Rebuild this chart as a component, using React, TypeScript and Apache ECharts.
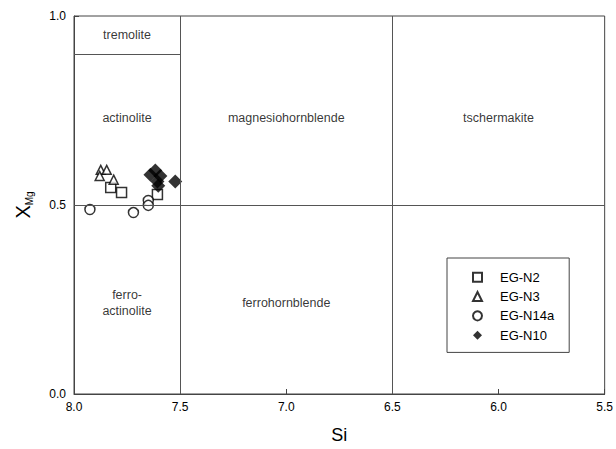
import React, { useEffect, useRef } from "react";
import * as echarts from "echarts";

const seriesNames = ["EG-N2", "EG-N3", "EG-N14a", "EG-N10"];
const egN2: [number, number][] = [[7.827, 0.546], [7.776, 0.533], [7.607, 0.528]];
const egN3: [number, number][] = [[7.874, 0.593], [7.846, 0.593], [7.879, 0.577], [7.813, 0.567]];
const egN14a: [number, number][] = [[7.925, 0.488], [7.72, 0.48], [7.65, 0.512], [7.65, 0.499]];
const egN10: [number, number][] = [[7.64, 0.58], [7.617, 0.591], [7.593, 0.577], [7.607, 0.562], [7.603, 0.551], [7.523, 0.562]];

const zoneNames = ["tremolite", "actinolite", "magnesiohornblende", "tschermakite", "ferro-\nactinolite", "ferrohornblende"];
const zoneSi = [7.75, 7.75, 7.0, 6.0, 7.75, 7.0];
const zoneXMg = [0.95, 0.73, 0.73, 0.73, 0.24, 0.24];

const siBoundaries = [7.5, 6.5];
const xmgBoundary = 0.5;
const tremoliteLimit = 0.9;

const FONT = "Liberation Sans, Arial, sans-serif";

export default function App() {
  const ref = useRef<HTMLDivElement>(null);
  useEffect(() => {
    if (!ref.current) return;
    const chart = echarts.init(ref.current, undefined, { renderer: "svg" });
    const hollow = { color: "#fff", borderColor: "#000", borderWidth: 1.5 };
    chart.setOption({
      animation: false,
      backgroundColor: "#fff",
      textStyle: { fontFamily: FONT },
      grid: { left: 74, right: 8, top: 16, bottom: 52, show: true, borderColor: "#444", borderWidth: 1 },
      legend: {
        data: seriesNames,
        orient: "vertical",
        left: 447,
        top: 258,
        padding: [12, 15, 10, 25],
        itemWidth: 9,
        itemHeight: 9,
        itemGap: 4.8,
        borderColor: "#444",
        borderWidth: 1,
        backgroundColor: "#fff",
        textStyle: { fontFamily: FONT, fontSize: 13, color: "#000", padding: [0, 0, 0, 13], lineHeight: 14.5 },
      },
      xAxis: {
        type: "value",
        inverse: true,
        min: 5.5,
        max: 8.0,
        interval: 0.5,
        name: "Si",
        nameLocation: "middle",
        nameGap: 32,
        nameTextStyle: { fontSize: 18, color: "#000", fontFamily: FONT },
        axisLine: { lineStyle: { color: "#444" } },
        axisTick: { inside: true, length: 5, lineStyle: { color: "#444" } },
        axisLabel: { formatter: (v: number) => v.toFixed(1), fontSize: 12, color: "#000", margin: 7 },
        splitLine: { show: false },
      },
      yAxis: {
        type: "value",
        min: 0,
        max: 1,
        interval: 0.5,
        name: "{x|X}{s|Mg}",
        nameLocation: "middle",
        nameGap: 40,
        nameRotate: 90,
        nameTextStyle: {
          color: "#000",
          rich: {
            x: { fontSize: 20, fontFamily: FONT, color: "#000", lineHeight: 22 },
            s: { fontSize: 10, fontFamily: FONT, color: "#000", verticalAlign: "bottom", padding: [10, 0, 0, 0] },
          },
        },
        axisLine: { lineStyle: { color: "#444" } },
        axisTick: { inside: true, length: 5, lineStyle: { color: "#444" } },
        axisLabel: { formatter: (v: number) => v.toFixed(1), fontSize: 12, color: "#000", margin: 8 },
        splitLine: { show: false },
      },
      series: [
        {
          name: "zones",
          type: "scatter",
          silent: true,
          symbolSize: 0,
          data: zoneNames.map((n, i) => ({ name: n, value: [zoneSi[i], zoneXMg[i]] })),
          label: {
            show: true,
            position: "inside",
            formatter: (p: any) => p.name,
            fontSize: 12.5,
            color: "#000",
            fontFamily: FONT,
            lineHeight: 16,
            align: "center",
          },
          markLine: {
            silent: true,
            symbol: ["none", "none"],
            label: { show: false },
            lineStyle: { color: "#555", width: 1, type: "solid" },
            data: [
              ...siBoundaries.map((s) => ({ xAxis: s })),
              { yAxis: xmgBoundary },
              [{ coord: [8.0, tremoliteLimit] }, { coord: [7.5, tremoliteLimit] }],
            ],
          },
        },
        { name: seriesNames[0], type: "scatter", symbol: "rect", symbolSize: 10, itemStyle: hollow, data: egN2 },
        { name: seriesNames[1], type: "scatter", symbol: "triangle", symbolSize: 9, itemStyle: hollow, data: egN3 },
        { name: seriesNames[2], type: "scatter", symbol: "circle", symbolSize: 10, itemStyle: hollow, data: egN14a },
        { name: seriesNames[3], type: "scatter", symbol: "diamond", symbolSize: 14, itemStyle: { color: "#000" }, data: egN10 },
      ],
    });
    return () => chart.dispose();
  }, []);
  return <div ref={ref} style={{ width: 616, height: 449, position: "absolute", left: 0, top: 0 }} />;
}
